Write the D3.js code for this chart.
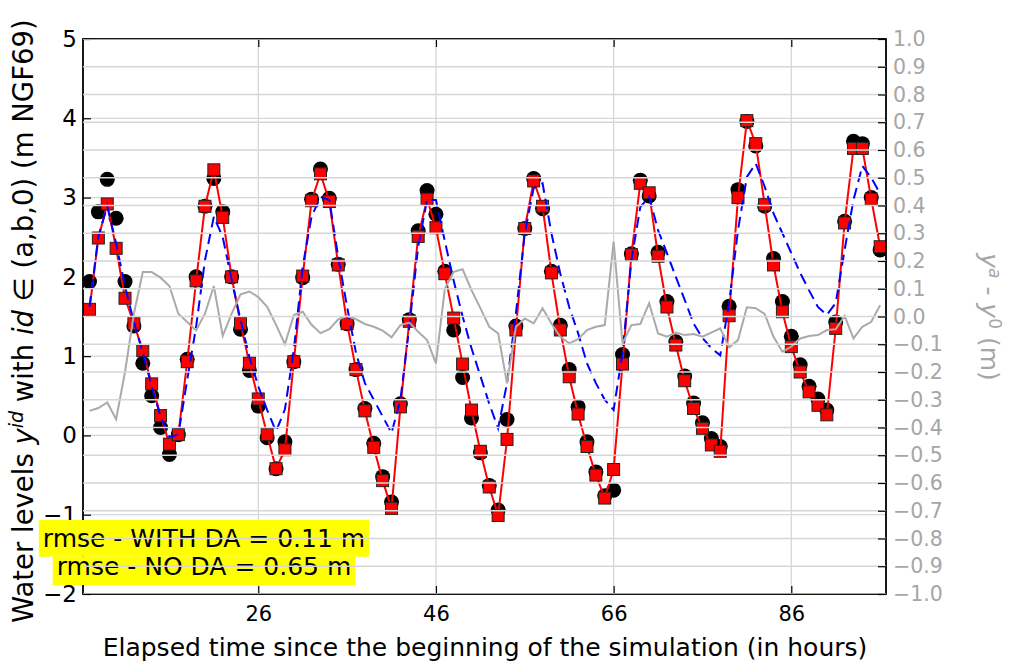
<!DOCTYPE html>
<html>
<head>
<meta charset="utf-8">
<script src="https://cdn.jsdelivr.net/npm/d3@7"></script>
<style>
  body { margin: 0; background: #fff; }
  svg { display: block; font-family: 'DejaVu Sans', sans-serif; }
</style>
</head>
<body>
<div id="chart"></div>
<script>
// hourly samples
const hours = [7, 8, 9, 10, 11, 12, 13, 14, 15, 16, 17, 18, 19, 20, 21, 22, 23, 24, 25, 26,
  27, 28, 29, 30, 31, 32, 33, 34, 35, 36, 37, 38, 39, 40, 41, 42, 43, 44, 45, 46,
  47, 48, 49, 50, 51, 52, 53, 54, 55, 56, 57, 58, 59, 60, 61, 62, 63, 64, 65, 66,
  67, 68, 69, 70, 71, 72, 73, 74, 75, 76, 77, 78, 79, 80, 81, 82, 83, 84, 85, 86,
  87, 88, 89, 90, 91, 92, 93, 94, 95, 96]

// observations (black circles)
const observed = [1.94, 2.82, 3.23, 2.74, 1.94, 1.38, 0.91, 0.50, 0.10, -0.24, 0.01, 0.96, 2.00, 2.89, 3.24, 2.82, 2.00, 1.34, 0.82, 0.37,
  -0.03, -0.42, -0.08, 0.93, 1.99, 2.98, 3.36, 2.99, 2.16, 1.41, 0.83, 0.34, -0.10, -0.52, -0.84, 0.40, 1.46, 2.58, 3.09, 2.79,
  2.07, 1.33, 0.73, 0.22, -0.22, -0.63, -0.94, 0.20, 1.38, 2.61, 3.24, 2.86, 2.07, 1.39, 0.83, 0.36, -0.08, -0.46, -0.76, -0.69,
  1.02, 2.29, 3.22, 3.02, 2.31, 1.69, 1.18, 0.75, 0.41, 0.16, -0.04, -0.14, 1.63, 3.10, 3.96, 3.65, 2.89, 2.23, 1.69, 1.25,
  0.89, 0.62, 0.46, 0.32, 1.43, 2.70, 3.71, 3.68, 3.00, 2.34]

// with data assimilation (red squares)
const withDA = [1.59, 2.49, 2.92, 2.36, 1.73, 1.41, 1.07, 0.65, 0.25, -0.11, 0.01, 0.93, 1.95, 2.89, 3.35, 2.75, 2.00, 1.41, 0.91, 0.46,
  0.01, -0.42, -0.18, 0.93, 2.01, 2.96, 3.30, 2.95, 2.15, 1.41, 0.83, 0.31, -0.15, -0.57, -0.92, 0.36, 1.44, 2.51, 2.98, 2.62,
  2.04, 1.48, 0.90, 0.32, -0.20, -0.65, -1.01, -0.05, 1.33, 2.61, 3.21, 2.89, 2.05, 1.33, 0.74, 0.27, -0.14, -0.50, -0.79, -0.43,
  0.90, 2.28, 3.18, 3.06, 2.26, 1.62, 1.14, 0.69, 0.34, 0.09, -0.12, -0.20, 1.51, 3.00, 3.97, 3.68, 2.91, 2.15, 1.56, 1.12,
  0.80, 0.55, 0.38, 0.26, 1.35, 2.68, 3.62, 3.62, 2.98, 2.38]

// without data assimilation (blue dashed)
const noDA = [1.62, 2.51, 2.89, 2.42, 1.88, 1.43, 1.04, 0.62, 0.24, -0.02, 0.01, 0.70, 1.37, 2.21, 2.76, 2.50, 1.96, 1.46, 0.99, 0.62,
  0.32, 0.05, 0.33, 1.08, 2.13, 2.76, 3.01, 2.97, 2.25, 1.62, 1.04, 0.66, 0.45, 0.24, 0.03, 0.45, 1.37, 2.38, 2.97, 2.97,
  2.45, 1.95, 1.50, 1.10, 0.75, 0.40, 0.09, 0.66, 1.54, 2.55, 3.12, 3.18, 2.55, 2.04, 1.62, 1.29, 0.91, 0.66, 0.45, 0.32,
  1.04, 2.21, 2.88, 3.01, 2.59, 2.30, 2.00, 1.71, 1.41, 1.23, 1.10, 1.01, 1.67, 2.59, 3.26, 3.43, 3.14, 2.80, 2.55, 2.30,
  2.05, 1.83, 1.62, 1.52, 1.67, 2.34, 2.97, 3.40, 3.25, 3.05]

// y^a - y^0 (gray, right axis)
const diff = [-0.34, -0.33, -0.31, -0.37, -0.20, 0.01, 0.16, 0.16, 0.14, 0.11, 0.01, -0.02, -0.05, 0.01, 0.11, -0.07, 0.01, 0.08, 0.09, 0.07,
  0.035, -0.03, -0.10, 0.005, 0.017, -0.03, -0.06, -0.046, -0.01, 0.002, -0.01, -0.027, -0.037, -0.051, -0.075, -0.031, -0.022, -0.055, -0.085, -0.169,
  0.10, 0.161, 0.17, 0.095, 0.03, -0.037, -0.061, -0.241, -0.037, -0.007, -0.025, 0.03, -0.025, -0.073, -0.097, -0.082, -0.049, -0.037, -0.031, 0.27,
  -0.097, -0.031, -0.027, 0.048, -0.061, -0.073, -0.058, -0.067, -0.063, -0.073, -0.058, -0.043, -0.111, -0.085, 0.033, 0.03, 0.009, -0.073, -0.127, -0.109,
  -0.079, -0.07, -0.067, -0.049, -0.046, 0.002, -0.079, -0.037, -0.019, 0.041]

const xTicks = [26, 46, 66, 86]
const leftTicks = [-2, -1, 0, 1, 2, 3, 4, 5]
const rightTicks = [-1.0, -0.9, -0.8, -0.7, -0.6, -0.5, -0.4, -0.3, -0.2, -0.1, 0.0, 0.1, 0.2, 0.3, 0.4, 0.5, 0.6, 0.7, 0.8, 0.9, 1.0]
const rmseLines = ['rmse - WITH DA = 0.11 m', 'rmse - NO DA = 0.65 m']

const width = 1009
const height = 667
const margin = { top: 39, left: 83, right: 123, bottom: 73 }
const plotW = width - margin.left - margin.right
const plotH = height - margin.top - margin.bottom
const gridColor = '#d6d6d6'
const grayText = '#a6a6a6'
const minus = s => s.replace('-', '\u2212')

const svg = d3
  .select('#chart')
  .append('svg')
  .attr('width', width)
  .attr('height', height)

svg.append('rect').attr('width', width).attr('height', height).attr('fill', '#fff')

const x = d3.scaleLinear().domain([6.27, 96.66]).range([margin.left, margin.left + plotW])
const yLeft = d3.scaleLinear().domain([-2, 5]).range([margin.top + plotH, margin.top])
const yRight = d3.scaleLinear().domain([-1, 1]).range([margin.top + plotH, margin.top])

svg
  .append('defs')
  .append('clipPath')
  .attr('id', 'plot-clip')
  .append('rect')
  .attr('x', margin.left)
  .attr('y', margin.top)
  .attr('width', plotW)
  .attr('height', plotH)

// left axis grid
const grid = svg.append('g').attr('stroke', gridColor).attr('stroke-width', 1.3)
grid
  .selectAll('.hgrid')
  .data(leftTicks)
  .join('line')
  .attr('x1', margin.left)
  .attr('x2', margin.left + plotW)
  .attr('y1', d => yLeft(d))
  .attr('y2', d => yLeft(d))
grid
  .selectAll('.vgrid')
  .data(xTicks)
  .join('line')
  .attr('x1', d => x(d))
  .attr('x2', d => x(d))
  .attr('y1', margin.top)
  .attr('y2', margin.top + plotH)

const plot = svg.append('g').attr('clip-path', 'url(#plot-clip)')
const pts = hours.map((h, i) => ({ h, obs: observed[i], da: withDA[i], no: noDA[i], d: diff[i] }))

plot
  .selectAll('.obs')
  .data(pts)
  .join('circle')
  .attr('cx', d => x(d.h))
  .attr('cy', d => yLeft(d.obs))
  .attr('r', 7.5)
  .attr('fill', '#000')

plot
  .append('path')
  .datum(pts)
  .attr('fill', 'none')
  .attr('stroke', '#ff0000')
  .attr('stroke-width', 2)
  .attr('d', d3.line().x(d => x(d.h)).y(d => yLeft(d.da)))

plot
  .selectAll('.da')
  .data(pts)
  .join('rect')
  .attr('x', d => x(d.h) - 6)
  .attr('y', d => yLeft(d.da) - 6)
  .attr('width', 12)
  .attr('height', 12)
  .attr('fill', '#ff0000')
  .attr('stroke', '#222')
  .attr('stroke-width', 1)

plot
  .append('path')
  .datum(pts)
  .attr('fill', 'none')
  .attr('stroke', '#0000ff')
  .attr('stroke-width', 2)
  .attr('stroke-dasharray', '11,6')
  .attr('d', d3.line().x(d => x(d.h)).y(d => yLeft(d.no)))

// frame
svg
  .append('rect')
  .attr('x', margin.left)
  .attr('y', margin.top)
  .attr('width', plotW)
  .attr('height', plotH)
  .attr('fill', 'none')
  .attr('stroke', '#000')
  .attr('stroke-width', 1.8)

// axes, ticks pointing inward
const xAxis = d3.axisBottom(x).tickValues(xTicks).tickSizeInner(-8).tickSizeOuter(0).tickPadding(12)
const xAxisTop = d3.axisTop(x).tickValues(xTicks).tickSizeInner(-8).tickSizeOuter(0).tickFormat('')
const leftAxis = d3.axisLeft(yLeft).tickValues(leftTicks).tickSizeInner(-8).tickSizeOuter(0).tickPadding(6)
  .tickFormat(d => minus(d3.format('d')(d)))
const rightAxis = d3.axisRight(yRight).tickValues(rightTicks).tickSizeInner(-8).tickSizeOuter(0).tickPadding(7)
  .tickFormat(d => minus(d3.format('.1f')(d)))

function styleAxis(g, color, size) {
  g.select('.domain').remove()
  g.selectAll('.tick line').attr('stroke', '#000').attr('stroke-width', 1.2)
  g.selectAll('.tick text').attr('fill', color).style('font-size', size + 'px').style('font-family', 'DejaVu Sans')
}

svg.append('g').attr('transform', `translate(0,${margin.top + plotH})`).call(xAxis).call(g => styleAxis(g, '#000', 21))
svg.append('g').attr('transform', `translate(0,${margin.top})`).call(xAxisTop).call(g => styleAxis(g, '#000', 21))
svg.append('g').attr('transform', `translate(${margin.left},0)`).call(leftAxis).call(g => styleAxis(g, '#000', 23))

// rmse annotation (sits above the left tick labels, below the right axis grid)
const note = svg.append('g')
const noteBaselines = [547, 575]
rmseLines.forEach((t, i) => {
  const g = note.append('g')
  const bg = g.append('rect').attr('fill', '#ffff00')
  const txt = g
    .append('text')
    .attr('x', 204)
    .attr('y', noteBaselines[i])
    .attr('text-anchor', 'middle')
    .style('font-size', '25px')
    .attr('fill', '#000')
    .text(t)
  const bb = txt.node().getBBox()
  bg.attr('x', bb.x - 4)
    .attr('width', bb.width + 8)
    .attr('y', i === 0 ? 520 : 556.7)
    .attr('height', i === 0 ? 36.7 : 28.3)
})

// right axis grid, drawn over the left axis content
svg
  .append('g')
  .attr('stroke', gridColor)
  .attr('stroke-width', 1.3)
  .attr('clip-path', 'url(#plot-clip)')
  .selectAll('line')
  .data(rightTicks)
  .join('line')
  .attr('x1', margin.left)
  .attr('x2', margin.left + plotW)
  .attr('y1', d => yRight(d))
  .attr('y2', d => yRight(d))

plot
  .append('path')
  .datum(pts)
  .attr('fill', 'none')
  .attr('stroke', '#aaaaaa')
  .attr('stroke-width', 2)
  .attr('d', d3.line().x(d => x(d.h)).y(d => yRight(d.d)))

svg.append('g').attr('transform', `translate(${margin.left + plotW},0)`).call(rightAxis).call(g => styleAxis(g, grayText, 20.5))

// axis labels
svg
  .append('text')
  .attr('x', 485)
  .attr('y', 656)
  .attr('text-anchor', 'middle')
  .style('font-size', '25px')
  .text('Elapsed time since the beginning of the simulation (in hours)')

const leftLabel = svg
  .append('text')
  .attr('transform', 'translate(33,623) rotate(-90)')
  .attr('text-anchor', 'start')
  .style('font-size', '27.5px')
leftLabel.append('tspan').text('Water levels ')
leftLabel.append('tspan').style('font-style', 'italic').text('y')
leftLabel.append('tspan').style('font-style', 'italic').style('font-size', '19px').attr('dy', -10).text('id')
leftLabel.append('tspan').attr('dy', 10).text(' with ')
leftLabel.append('tspan').style('font-style', 'italic').text('id')
leftLabel.append('tspan').text(' \u2208 (a,b,0) (m NGF69)')

const rightLabel = svg
  .append('text')
  .attr('transform', 'translate(981,317) rotate(90)')
  .attr('text-anchor', 'middle')
  .attr('fill', grayText)
  .style('font-size', '25px')
rightLabel.append('tspan').style('font-style', 'italic').text('y')
rightLabel.append('tspan').style('font-style', 'italic').style('font-size', '17px').attr('dy', -8).text('a')
rightLabel.append('tspan').attr('dy', 8).text(' - ')
rightLabel.append('tspan').style('font-style', 'italic').text('y')
rightLabel.append('tspan').style('font-size', '17px').attr('dy', -8).text('0')
rightLabel.append('tspan').attr('dy', 8).text(' (m)')
</script>
</body>
</html>
